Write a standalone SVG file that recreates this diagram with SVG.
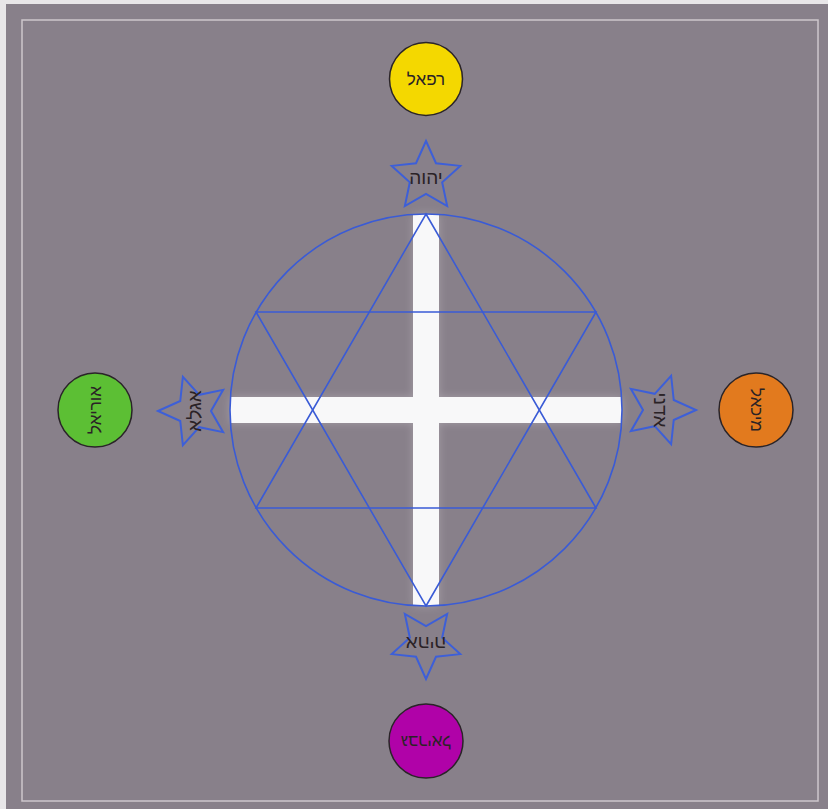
<svg xmlns="http://www.w3.org/2000/svg" width="828" height="809" viewBox="0 0 828 809">
  <style>
    .star { fill: none; stroke: #3d5fd8; stroke-width: 2; stroke-linejoin: miter; }
    .geo { fill: none; stroke: #3a5bd6; stroke-width: 1.6; }
    .bar { fill: #f8f8f9; }
    .ball { stroke: #2a2428; stroke-width: 1.5; }
    .lbl { font-family: "Liberation Sans", "DejaVu Sans", sans-serif; font-size: 17px; fill: #2a2226; text-anchor: middle; dominant-baseline: central; }
    .slbl { font-size: 19px; }
  </style>
  <defs>
    <polygon id="star5" points="0,-36 9.99,-13.75 34.24,-11.12 16.17,5.25 21.16,29.12 0,17 -21.16,29.12 -16.17,5.25 -34.24,-11.12 -9.99,-13.75"/>
    <filter id="glow" x="-20%" y="-20%" width="140%" height="140%">
      <feGaussianBlur stdDeviation="4"/>
    </filter>
  </defs>

  <!-- page -->
  <rect x="0" y="0" width="828" height="809" fill="#e8e6e8"/>
  <rect x="6" y="4" width="822" height="805" fill="#88808a"/>
  <rect x="22" y="20" width="796" height="781" fill="none" stroke="#cdc6cc" stroke-width="1.5"/>

  <!-- central figure -->
  <g id="cross">
    <g opacity="0.35" filter="url(#glow)">
      <rect x="413" y="214" width="26" height="392" fill="#d8d4d8"/>
      <rect x="230" y="397" width="392" height="26" fill="#d8d4d8"/>
    </g>
    <rect class="bar" x="413" y="214" width="26" height="392"/>
    <rect class="bar" x="230" y="397" width="392" height="26"/>
  </g>
  <g id="connectors">
    <circle class="geo" cx="426" cy="410" r="196"/>
    <polygon class="geo" points="426,214 596,508 256,508"/>
    <polygon class="geo" points="426,606 596,312 256,312"/>
  </g>

  <!-- stars -->
  <g id="star-top" transform="translate(426,177)">
    <use href="#star5" class="star"/>
    <text class="lbl slbl" x="0" y="0">יהוה</text>
  </g>
  <g id="star-left" transform="translate(194,411) rotate(-90)">
    <use href="#star5" class="star"/>
    <text class="lbl slbl" x="0" y="0">אגלא</text>
  </g>
  <g id="star-right" transform="translate(660,410) rotate(90)">
    <use href="#star5" class="star"/>
    <text class="lbl slbl" x="0" y="0">אדני</text>
  </g>
  <g id="star-bottom" transform="translate(426,643) rotate(180)">
    <use href="#star5" class="star"/>
    <text class="lbl slbl" x="0" y="0">אהיה</text>
  </g>

  <!-- archangel circles -->
  <g id="raphael" transform="translate(426,79)">
    <circle class="ball" r="36.5" fill="#f4d800"/>
    <text class="lbl" x="0" y="0">רפאל</text>
  </g>
  <g id="uriel" transform="translate(95,410) rotate(-90)">
    <circle class="ball" r="37" fill="#5cbf34"/>
    <text class="lbl" x="0" y="0">אוריאל</text>
  </g>
  <g id="michael" transform="translate(756,410) rotate(90)">
    <circle class="ball" r="37" fill="#e27a1e"/>
    <text class="lbl" x="0" y="0">מיכאל</text>
  </g>
  <g id="gabriel" transform="translate(426,741) rotate(180)">
    <circle class="ball" r="37" fill="#b002a8"/>
    <text class="lbl" x="0" y="0">גבריאל</text>
  </g>
</svg>
